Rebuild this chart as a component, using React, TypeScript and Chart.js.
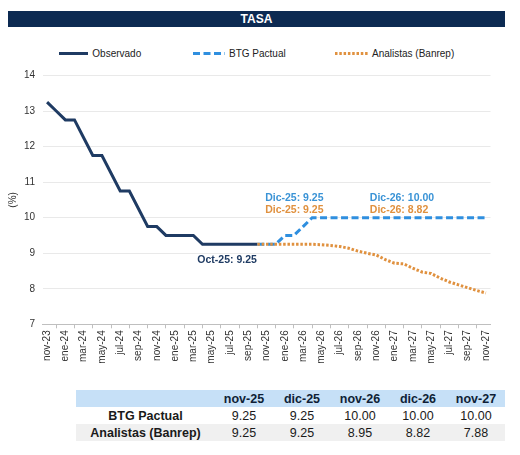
import React, { useEffect, useRef } from "react";
import { Chart, registerables } from "chart.js";

Chart.register(...registerables);

const FONT = '"Liberation Sans", Arial, Helvetica, sans-serif';
const NAVY = "#1f3b63";
const BLUE = "#2f8fdf";
const ORANGE = "#e0913f";

const months = [
  "nov-23", "dic-23", "ene-24", "feb-24", "mar-24", "abr-24", "may-24", "jun-24", "jul-24", "ago-24",
  "sep-24", "oct-24", "nov-24", "dic-24", "ene-25", "feb-25", "mar-25", "abr-25", "may-25", "jun-25",
  "jul-25", "ago-25", "sep-25", "oct-25", "nov-25", "dic-25", "ene-26", "feb-26", "mar-26", "abr-26",
  "may-26", "jun-26", "jul-26", "ago-26", "sep-26", "oct-26", "nov-26", "dic-26", "ene-27", "feb-27",
  "mar-27", "abr-27", "may-27", "jun-27", "jul-27", "ago-27", "sep-27", "oct-27", "nov-27",
];

const observado: (number | null)[] = [
  13.25, 13.0, 12.75, 12.75, 12.25, 11.75, 11.75, 11.25, 10.75, 10.75,
  10.25, 9.75, 9.75, 9.5, 9.5, 9.5, 9.5, 9.25, 9.25, 9.25,
  9.25, 9.25, 9.25, 9.25, null, null, null, null, null, null,
  null, null, null, null, null, null, null, null, null, null,
  null, null, null, null, null, null, null, null, null,
];

const btgPactual: (number | null)[] = [
  null, null, null, null, null, null, null, null, null, null,
  null, null, null, null, null, null, null, null, null, null,
  null, null, null, 9.25, 9.25, 9.25, 9.5, 9.5, 9.75, 10.0,
  10.0, 10.0, 10.0, 10.0, 10.0, 10.0, 10.0, 10.0, 10.0, 10.0,
  10.0, 10.0, 10.0, 10.0, 10.0, 10.0, 10.0, 10.0, 10.0,
];

const analistas: (number | null)[] = [
  null, null, null, null, null, null, null, null, null, null,
  null, null, null, null, null, null, null, null, null, null,
  null, null, null, 9.25, 9.25, 9.25, 9.25, 9.25, 9.25, 9.25,
  9.24, 9.22, 9.19, 9.14, 9.06, 9.0, 8.95, 8.82, 8.72, 8.7,
  8.58, 8.47, 8.43, 8.3, 8.19, 8.11, 8.03, 7.95, 7.88,
];

const yMin = 7;
const yMax = 14;
const yStep = 1;

const tableHeaders = ["nov-25", "dic-25", "nov-26", "dic-26", "nov-27"];
const tableBtg = [9.25, 9.25, 10.0, 10.0, 10.0];
const tableBanrep = [9.25, 9.25, 8.95, 8.82, 7.88];

type Callout = {
  prefix: string;
  data: (number | null)[];
  index: number;
  dx: number;
  dy: number;
  align: CanvasTextAlign;
  color: string;
};

const callouts: Callout[] = [
  { prefix: "Oct-25: ", data: observado, index: 23, dx: -0.5, dy: 16, align: "right", color: NAVY },
  { prefix: "Dic-25: ", data: btgPactual, index: 25, dx: -10.5, dy: -46, align: "left", color: "#3a93d6" },
  { prefix: "Dic-25: ", data: analistas, index: 25, dx: -10.5, dy: -34, align: "left", color: ORANGE },
  { prefix: "Dic-26: ", data: btgPactual, index: 37, dx: -15.5, dy: -19.7, align: "left", color: "#3a93d6" },
  { prefix: "Dic-26: ", data: analistas, index: 37, dx: -15.5, dy: -49.3, align: "left", color: ORANGE },
];

const calloutPlugin = {
  id: "callouts",
  afterDatasetsDraw(chart: any) {
    const { ctx } = chart;
    const x = chart.scales.x;
    const y = chart.scales.y;
    ctx.save();
    ctx.font = `bold 10.5px ${FONT}`;
    ctx.textBaseline = "middle";
    for (const c of callouts) {
      const v = c.data[c.index] as number;
      const px = x.getPixelForValue(c.index) + c.dx;
      const py = y.getPixelForValue(v) + c.dy;
      ctx.fillStyle = c.color;
      ctx.textAlign = c.align;
      ctx.fillText(`${c.prefix}${v.toFixed(2)}`, px, py);
    }
    ctx.restore();
  },
};

function LegendItem({ left, len, color, dash, text }: { left: number; len: number; color: string; dash?: string; text: string }) {
  return (
    <div
      style={{
        position: "absolute",
        left,
        top: 39,
        height: 12,
        display: "flex",
        alignItems: "center",
        whiteSpace: "nowrap",
        fontSize: 10,
        color: "#222",
      }}
    >
      <svg width={len} height={3} style={{ display: "block", marginRight: 4 }}>
        <line x1={0} y1={1.5} x2={len} y2={1.5} stroke={color} strokeWidth={3} strokeDasharray={dash} />
      </svg>
      <span>{text}</span>
    </div>
  );
}

export default function App() {
  const ref = useRef<HTMLCanvasElement>(null);

  useEffect(() => {
    if (!ref.current) return;
    Chart.defaults.font.family = FONT;
    const chart = new Chart(ref.current, {
      type: "line",
      data: {
        labels: months,
        datasets: [
          {
            label: "Observado",
            data: observado,
            borderColor: NAVY,
            backgroundColor: NAVY,
            borderWidth: 3,
            pointRadius: 0,
            tension: 0,
            order: 2,
          },
          {
            label: "BTG Pactual",
            data: btgPactual,
            borderColor: BLUE,
            backgroundColor: BLUE,
            borderWidth: 3,
            borderDash: [7, 3.5],
            pointRadius: 0,
            tension: 0,
            order: 1,
          },
          {
            label: "Analistas (Banrep)",
            data: analistas,
            borderColor: ORANGE,
            backgroundColor: ORANGE,
            borderWidth: 3,
            borderDash: [2.5, 1.8],
            borderCapStyle: "butt",
            pointRadius: 0,
            tension: 0,
            order: 0,
          },
        ],
      },
      options: {
        responsive: false,
        animation: false,
        layout: { padding: { top: 12, right: 14.5, left: 0, bottom: 0 } },
        plugins: {
          legend: { display: false },
          tooltip: { enabled: false },
        },
        scales: {
          x: {
            type: "category",
            offset: true,
            grid: {
              offset: true,
              drawOnChartArea: false,
              drawTicks: true,
              tickLength: 4,
              color: "#bfbfbf",
            },
            border: { display: true, color: "#bfbfbf" },
            ticks: {
              autoSkip: false,
              maxRotation: 90,
              minRotation: 90,
              padding: 2,
              color: "#333",
              font: { size: 10 },
              callback: (_v: any, i: number) => (i % 2 === 0 ? months[i] : null),
            },
            afterFit: (s: any) => {
              s.height = 55.7;
            },
          },
          y: {
            min: yMin,
            max: yMax,
            ticks: { stepSize: yStep, padding: 7.5, color: "#333", font: { size: 10 } },
            grid: { color: "#e9e9e9", drawTicks: false },
            border: { display: false },
            title: {
              display: true,
              text: "(%)",
              color: "#333",
              font: { size: 10, lineHeight: 1 },
              padding: 0,
            },
            afterFit: (s: any) => {
              s.width = 34.5;
            },
          },
        },
      },
      plugins: [calloutPlugin],
    } as any);
    return () => chart.destroy();
  }, []);

  const cellBase: React.CSSProperties = { padding: 0, height: 17, textAlign: "center", width: 58 };

  return (
    <div style={{ position: "relative", width: 497, height: 439, fontFamily: FONT }}>
      <div
        style={{
          position: "absolute",
          left: 0,
          top: 3,
          width: 497,
          height: 16,
          background: "#0c2a52",
          color: "#fff",
          fontWeight: "bold",
          fontSize: 12,
          lineHeight: "16px",
          textAlign: "center",
        }}
      >
        TASA
      </div>
      <LegendItem left={51.3} len={29} color={NAVY} text="Observado" />
      <LegendItem left={185} len={32} color={BLUE} dash="7 3.5" text="BTG Pactual" />
      <LegendItem left={327} len={33} color={ORANGE} dash="2.5 1.8" text="Analistas (Banrep)" />
      <canvas
        ref={ref}
        width={497}
        height={318}
        style={{ position: "absolute", left: 0, top: 54, width: 497, height: 318 }}
      />
      <table
        style={{
          position: "absolute",
          left: 68,
          top: 382,
          width: 429,
          borderCollapse: "collapse",
          fontSize: 12.5,
          color: "#1a1a1a",
          tableLayout: "fixed",
        }}
      >
        <tbody>
          <tr style={{ background: "#c6e0f7" }}>
            <td style={{ ...cellBase, width: 139 }}></td>
            {tableHeaders.map((h) => (
              <td key={h} style={{ ...cellBase, fontWeight: "bold", color: "#0f1f36" }}>
                {h}
              </td>
            ))}
          </tr>
          <tr style={{ background: "#ffffff" }}>
            <td style={{ ...cellBase, width: 139, fontWeight: "bold" }}>BTG Pactual</td>
            {tableBtg.map((v, i) => (
              <td key={i} style={cellBase}>
                {v.toFixed(2)}
              </td>
            ))}
          </tr>
          <tr style={{ background: "#f0f0f0" }}>
            <td style={{ ...cellBase, width: 139, fontWeight: "bold" }}>Analistas (Banrep)</td>
            {tableBanrep.map((v, i) => (
              <td key={i} style={cellBase}>
                {v.toFixed(2)}
              </td>
            ))}
          </tr>
        </tbody>
      </table>
    </div>
  );
}
